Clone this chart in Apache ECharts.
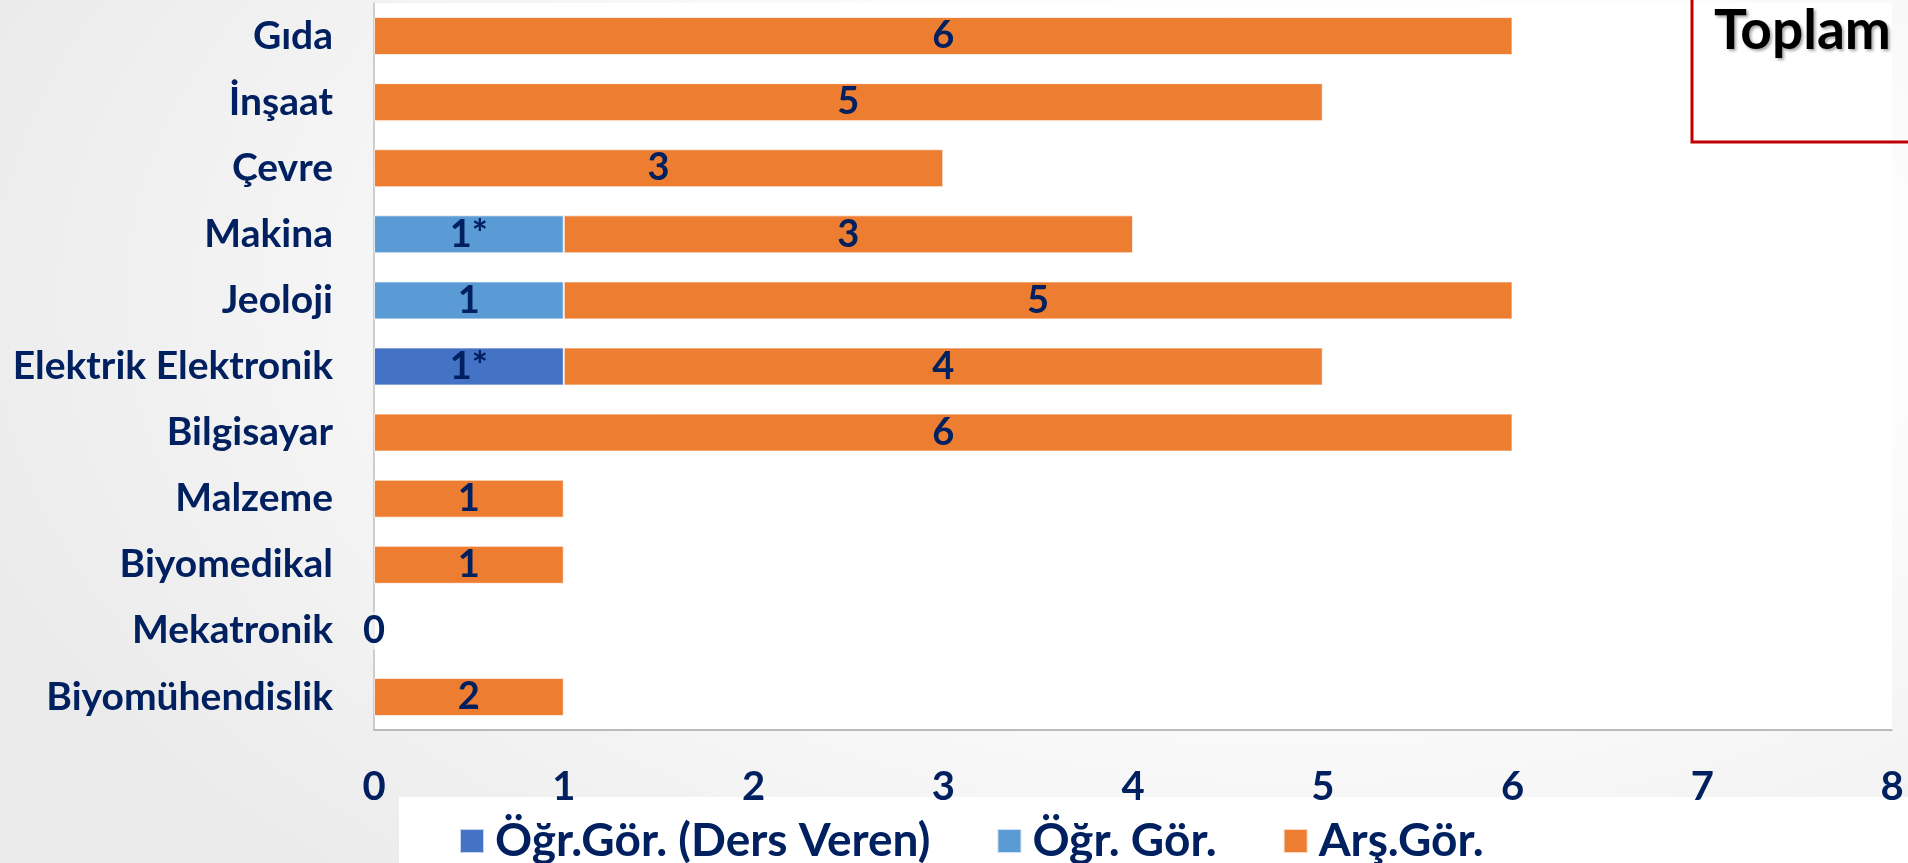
<!DOCTYPE html>
<html>
<head>
<meta charset="utf-8">
<script src="https://cdn.jsdelivr.net/npm/echarts@6/dist/echarts.min.js"></script>
<style>
html,body{margin:0;padding:0;}
body{width:1908px;height:863px;background:radial-gradient(ellipse 75% 95% at 68% 35%, #ffffff 35%, #eaeaea 100%);}
#c{width:1908px;height:863px;}
</style>
</head>
<body>
<div id="c"></div>
<script>
var categories = ['Gıda','İnşaat','Çevre','Makina','Jeoloji','Elektrik Elektronik','Bilgisayar','Malzeme','Biyomedikal','Mekatronik','Biyomühendislik'];
var seriesNames = ['Öğr.Gör. (Ders Veren)','Öğr. Gör.','Arş.Gör.'];
var dersVeren = [null,null,null,null,null,1,null,null,null,null,null];
var dersVerenLabels = ['','','','','','1*','','','','',''];
var ogrGor = [null,null,null,1,1,null,null,null,null,null,null];
var ogrGorLabels = ['','','','1*','1','','','','','',''];
var arsGor = [6,5,3,3,5,4,6,1,1,0,1];
var arsGorLabels = ['6','5','3','3','5','4','6','1','1','0','2'];
var xTicks = [0,1,2,3,4,5,6,7,8];

var NAVY = '#002060';
var FONT = 'Lato, "Open Sans", sans-serif';
var chart = echarts.init(document.getElementById('c'), null, {renderer:'canvas'});

function lbl(arr){
  return {
    show:true, position:'inside', color:NAVY, fontFamily:FONT, fontWeight:'bold', fontSize:38,
    formatter:function(p){ return arr[p.dataIndex]; }
  };
}

chart.setOption({
  backgroundColor:'transparent',
  animation:false,
  grid:{left:374,right:16,top:3,bottom:133,show:true,backgroundColor:'#ffffff',borderWidth:0,containLabel:false},
  xAxis:{
    type:'value', min:xTicks[0], max:xTicks[xTicks.length-1], interval:1,
    axisLine:{show:true,lineStyle:{color:'#a6a6a6',width:1.5}},
    axisTick:{show:false}, splitLine:{show:false},
    axisLabel:{color:NAVY,fontFamily:FONT,fontWeight:'bold',fontSize:40,margin:37}
  },
  yAxis:{
    type:'category', data:categories, inverse:true,
    axisLine:{show:true,lineStyle:{color:'#bfbfbf',width:1.5}},
    axisTick:{show:false},
    axisLabel:{color:NAVY,fontFamily:FONT,fontWeight:'bold',fontSize:39,margin:41}
  },
  legend:{
    left:454, top:813, itemWidth:24, itemHeight:24, itemGap:66, icon:'rect',
    textStyle:{color:NAVY,fontFamily:FONT,fontWeight:'bold',fontSize:46,padding:[0,0,0,6]},
    data:seriesNames
  },
  graphic:[
    {type:'rect', z:-1, shape:{x:399,y:797,width:1509,height:66}, style:{fill:'#ffffff'}},
    {type:'rect', shape:{x:1692,y:-10,width:300,height:152}, style:{fill:'transparent',stroke:'#c00000',lineWidth:3}},
    {type:'text', x:1714, y:4, style:{text:'Toplam', fill:'#000', font:'bold 55px Lato, "Open Sans", sans-serif', textShadowColor:'rgba(0,0,0,0.35)', textShadowBlur:3, textShadowOffsetX:2, textShadowOffsetY:2}}
  ],
  series:[
    {name:seriesNames[0], type:'bar', stack:'s', data:dersVeren, barWidth:38, itemStyle:{color:'#4472c4',borderColor:'rgba(255,255,255,0.7)',borderWidth:1}, label:lbl(dersVerenLabels)},
    {name:seriesNames[1], type:'bar', stack:'s', data:ogrGor, barWidth:38, itemStyle:{color:'#5b9bd5',borderColor:'rgba(255,255,255,0.7)',borderWidth:1}, label:lbl(ogrGorLabels)},
    {name:seriesNames[2], type:'bar', stack:'s', data:arsGor, barWidth:38, itemStyle:{color:'#ed7d31',borderColor:'rgba(255,255,255,0.7)',borderWidth:1}, label:lbl(arsGorLabels)}
  ]
});
</script>
</body>
</html>
